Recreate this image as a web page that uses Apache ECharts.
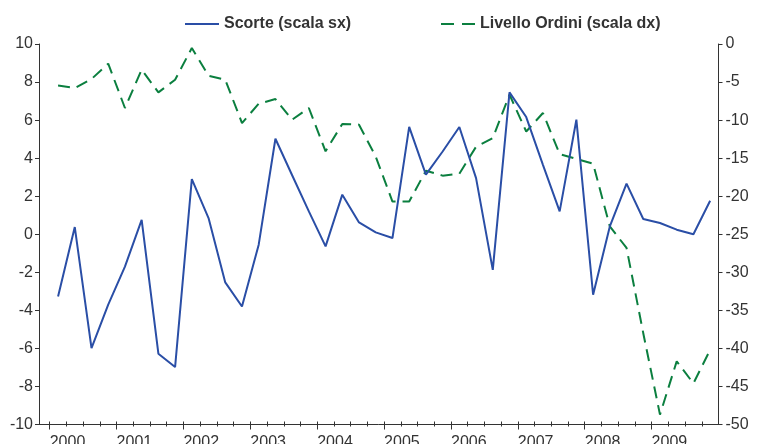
<!DOCTYPE html>
<html>
<head>
<meta charset="utf-8">
<script src="https://cdn.jsdelivr.net/npm/echarts@6/dist/echarts.min.js"></script>
<style>
html,body{margin:0;padding:0;background:#fff;}
#c{width:757px;height:444px;}
</style>
</head>
<body>
<div id="c"></div>
<script>
// Quarterly data, 2000Q1 .. 2009Q4
const years = [2000, 2001, 2002, 2003, 2004, 2005, 2006, 2007, 2008, 2009];
const scorte = [-3.27, 0.38, -5.98, -3.7, -1.7, 0.76, -6.28, -6.98, 2.9, 0.85,
  -2.53, -3.8, -0.55, 5.02, 3.1, 1.2, -0.64, 2.08, 0.62, 0.1,
  -0.2, 5.64, 3.13, 4.35, 5.64, 2.95, -1.87, 7.46, 6.16, 3.65,
  1.2, 6.02, -3.18, 0.41, 2.66, 0.8, 0.59, 0.24, 0.0, 1.76];
const ordini = [-5.44, -5.79, -4.6, -2.59, -8.41, -3.38, -6.36, -4.69, -0.53, -4.17,
  -4.69, -10.39, -7.85, -7.23, -9.95, -8.41, -14.1, -10.5, -10.6, -14.8,
  -20.7, -20.7, -16.65, -17.3, -17.05, -13.5, -12.36, -6.66, -11.5, -9.07,
  -14.46, -15.1, -15.73, -23.97, -26.8, -38.0, -48.7, -41.7, -44.6, -40.2];
const nameScorte = 'Scorte (scala sx)';
const nameOrdini = 'Livello Ordini (scala dx)';

const yearTicks = years.map((y, i) => i * 4);
const quarterTicks = scorte.map((v, i) => i);
const scorteData = scorte.map((v, i) => [i + 0.5, v]);
const ordiniData = ordini.map((v, i) => [i + 0.5, v]);

const axisColor = '#333';
const txt = '#333';
const font = 'Liberation Sans, Arial, sans-serif';
const blue = '#2a4ea6';
const green = '#0b7f3f';

const gridBox = {left: 39, right: 38.5, top: 44, bottom: 19.5, containLabel: false, outerBoundsMode: 'none'};
const xBase = {
  type: 'value', min: -0.64, max: 40, position: 'bottom',
  splitLine: {show: false}
};
const hiddenY = gi => ({type: 'value', gridIndex: gi, min: 0, max: 1, show: false});

const chart = echarts.init(document.getElementById('c'));
chart.setOption({
  animation: false,
  backgroundColor: '#fff',
  textStyle: {fontFamily: font},
  legend: [
    {left: 180, top: 11, itemWidth: 34, itemHeight: 16,
     data: [{name: nameScorte, icon: 'path://M0,0h34v2h-34z'}],
     textStyle: {fontSize: 16, fontWeight: 'bold', color: txt, fontFamily: font}},
    {left: 436, top: 11, itemWidth: 34, itemHeight: 16,
     data: [{name: nameOrdini, icon: 'path://M0,0h13v2h-13z M21,0h13v2h-13z'}],
     textStyle: {fontSize: 16, fontWeight: 'bold', color: txt, fontFamily: font}}
  ],
  grid: [gridBox, Object.assign({}, gridBox), Object.assign({}, gridBox)],
  xAxis: [
    Object.assign({}, xBase, {
      gridIndex: 0,
      axisLine: {show: true, onZero: false, lineStyle: {color: axisColor, width: 1}},
      axisTick: {show: true, customValues: quarterTicks, length: 2, lineStyle: {color: axisColor}},
      axisLabel: {show: true, customValues: yearTicks, align: 'left', margin: 10,
        fontSize: 16, color: txt, fontFamily: font,
        formatter: v => String(years[Math.round(v / 4)])}
    }),
    Object.assign({}, xBase, {
      gridIndex: 1,
      axisLine: {show: false, onZero: false},
      axisTick: {show: true, customValues: yearTicks, length: 5, lineStyle: {color: axisColor}},
      axisLabel: {show: false}
    }),
    Object.assign({}, xBase, {
      gridIndex: 2,
      axisLine: {show: false, onZero: false},
      axisTick: {show: true, inside: true, customValues: quarterTicks, length: 3, lineStyle: {color: axisColor}},
      axisLabel: {show: false}
    })
  ],
  yAxis: [
    {type: 'value', gridIndex: 0, position: 'left', min: -10, max: 10, interval: 2,
     splitLine: {show: false},
     axisLine: {show: true, onZero: false, lineStyle: {color: axisColor, width: 1}},
     axisTick: {show: true, length: 4, lineStyle: {color: axisColor}},
     axisLabel: {fontSize: 16, color: txt, margin: 6, fontFamily: font}},
    {type: 'value', gridIndex: 0, position: 'right', min: -50, max: 0, interval: 5,
     splitLine: {show: false},
     axisLine: {show: true, onZero: false, lineStyle: {color: axisColor, width: 1}},
     axisTick: {show: true, length: 4, lineStyle: {color: axisColor}},
     axisLabel: {fontSize: 16, color: txt, margin: 7, fontFamily: font}},
    hiddenY(1),
    hiddenY(2)
  ],
  series: [
    {name: nameScorte, type: 'line', xAxisIndex: 0, yAxisIndex: 0, data: scorteData,
     symbol: 'none', z: 3,
     lineStyle: {color: blue, width: 2}, itemStyle: {color: blue}},
    {name: nameOrdini, type: 'line', xAxisIndex: 0, yAxisIndex: 1, data: ordiniData,
     symbol: 'none', z: 2,
     lineStyle: {color: green, width: 2, type: [12, 7]}, itemStyle: {color: green}}
  ]
});
</script>
</body>
</html>
